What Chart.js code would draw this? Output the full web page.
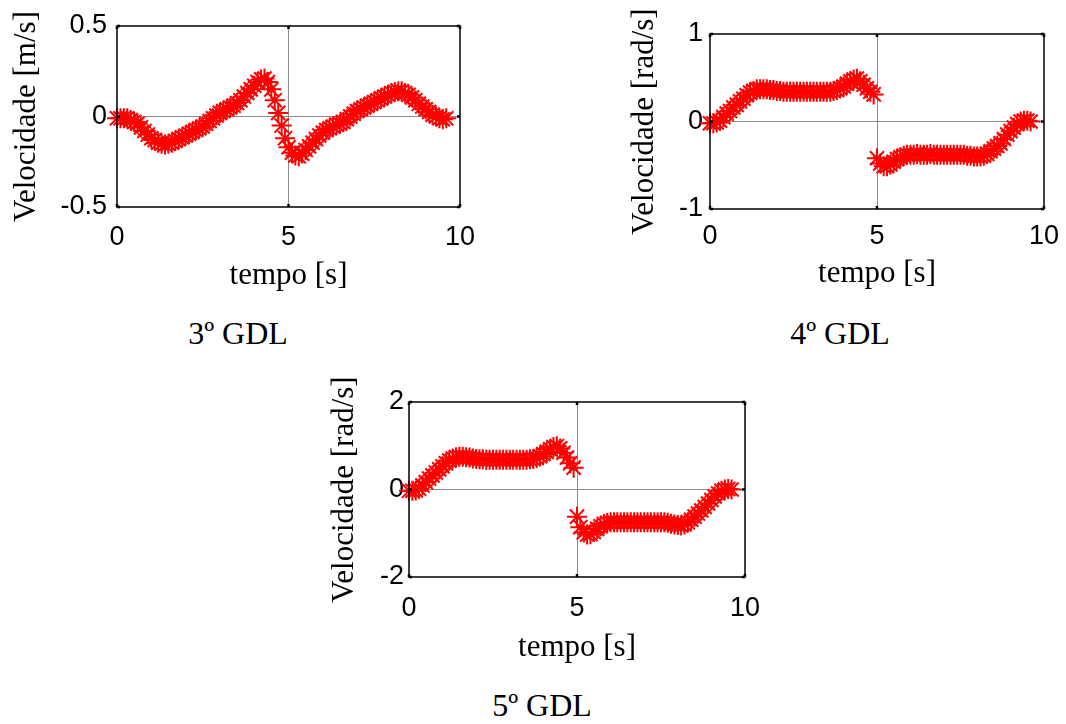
<!DOCTYPE html>
<html>
<head>
<meta charset="utf-8">
<script src="https://cdn.jsdelivr.net/npm/chart.js@4.4.0/dist/chart.umd.min.js"></script>
<style>
  body { margin: 0; background: #fff; width: 1066px; height: 724px; position: relative; overflow: hidden; }
  canvas { position: absolute; }
  .legenda {
    position: absolute; font-family: "Liberation Serif", "Times New Roman", serif;
    font-size: 32px; line-height: 1; color: #000; white-space: nowrap; transform: translateX(-50%);
  }
</style>
</head>
<body>
<canvas id="grafico3" width="480" height="300" style="left:0;top:0"></canvas>
<canvas id="grafico4" width="466" height="300" style="left:600px;top:0"></canvas>
<canvas id="grafico5" width="480" height="310" style="left:300px;top:370px"></canvas>
<div class="legenda" style="left:238px;top:317px">3º GDL</div>
<div class="legenda" style="left:840px;top:317px">4º GDL</div>
<div class="legenda" style="left:542px;top:689px">5º GDL</div>

<script>
// instantes de amostragem [s]
const tempo = [
  0.0, 0.1, 0.2, 0.3, 0.4, 0.5, 0.6, 0.7, 0.8, 0.9,
  1.0, 1.1, 1.2, 1.3, 1.4, 1.5, 1.6, 1.7, 1.8, 1.9,
  2.0, 2.1, 2.2, 2.3, 2.4, 2.5, 2.6, 2.7, 2.8, 2.9,
  3.0, 3.1, 3.2, 3.3, 3.4, 3.5, 3.6, 3.7, 3.8, 3.9,
  4.0, 4.1, 4.2, 4.3, 4.4, 4.5, 4.6, 4.7, 4.8, 4.9,
  5.0, 5.1, 5.2, 5.3, 5.4, 5.5, 5.6, 5.7, 5.8, 5.9,
  6.0, 6.1, 6.2, 6.3, 6.4, 6.5, 6.6, 6.7, 6.8, 6.9,
  7.0, 7.1, 7.2, 7.3, 7.4, 7.5, 7.6, 7.7, 7.8, 7.9,
  8.0, 8.1, 8.2, 8.3, 8.4, 8.5, 8.6, 8.7, 8.8, 8.9,
  9.0, 9.1, 9.2, 9.3, 9.4, 9.5, 9.6
];

// 3º GDL - velocidade linear [m/s]
const vel3 = [
  -0.01, -0.01, -0.01, -0.01, -0.02, -0.03, -0.04, -0.06, -0.08, -0.10,
  -0.12, -0.13, -0.145, -0.15, -0.155, -0.15, -0.145, -0.135, -0.125, -0.115,
  -0.105, -0.095, -0.085, -0.075, -0.065, -0.055, -0.04, -0.025, -0.01, 0.005,
  0.02, 0.03, 0.04, 0.05, 0.06, 0.075, 0.09, 0.11, 0.13, 0.15,
  0.17, 0.19, 0.205, 0.21, 0.19, 0.15, 0.09, 0.02, -0.05, -0.12,
  -0.17, -0.20, -0.215, -0.22, -0.205, -0.185, -0.165, -0.145, -0.125, -0.105,
  -0.09, -0.075, -0.065, -0.055, -0.045, -0.04, -0.03, -0.015, 0.0, 0.015,
  0.03, 0.04, 0.05, 0.06, 0.07, 0.08, 0.09, 0.10, 0.11, 0.12,
  0.13, 0.135, 0.14, 0.14, 0.13, 0.12, 0.105, 0.09, 0.07, 0.055,
  0.04, 0.025, 0.01, 0.0, -0.01, -0.015, -0.01
];

// 4º GDL - velocidade angular [rad/s]
const vel4 = [
  -0.02, -0.02, -0.01, 0.01, 0.05, 0.09, 0.12, 0.16, 0.19, 0.23,
  0.26, 0.30, 0.33, 0.35, 0.37, 0.37, 0.37, 0.37, 0.36, 0.36,
  0.35, 0.35, 0.34, 0.34, 0.34, 0.34, 0.34, 0.34, 0.34, 0.34,
  0.34, 0.34, 0.34, 0.34, 0.34, 0.34, 0.34, 0.35, 0.36, 0.38,
  0.40, 0.43, 0.46, 0.48, 0.49, 0.46, 0.42, 0.38, 0.34, 0.31,
  -0.42, -0.48, -0.51, -0.51, -0.49, -0.46, -0.43, -0.41, -0.39, -0.38,
  -0.38, -0.38, -0.37, -0.38, -0.38, -0.38, -0.37, -0.38, -0.38, -0.38,
  -0.38, -0.38, -0.38, -0.38, -0.38, -0.38, -0.38, -0.39, -0.39, -0.40,
  -0.40, -0.40, -0.39, -0.37, -0.34, -0.31, -0.28, -0.25, -0.20, -0.15,
  -0.11, -0.07, -0.03, 0.0, 0.01, 0.01, 0.0
];

// 5º GDL - velocidade angular [rad/s]
const vel5 = [
  -0.03, -0.03, -0.02, 0.02, 0.09, 0.17, 0.25, 0.32, 0.39, 0.46,
  0.53, 0.60, 0.66, 0.71, 0.74, 0.75, 0.75, 0.74, 0.73, 0.71,
  0.70, 0.69, 0.69, 0.68, 0.68, 0.68, 0.68, 0.68, 0.68, 0.68,
  0.68, 0.68, 0.68, 0.68, 0.68, 0.68, 0.69, 0.70, 0.72, 0.76,
  0.81, 0.86, 0.92, 0.97, 0.99, 0.94, 0.84, 0.73, 0.60, 0.50,
  -0.62, -0.86, -0.98, -1.03, -1.02, -0.97, -0.90, -0.84, -0.79, -0.76,
  -0.75, -0.75, -0.75, -0.75, -0.75, -0.75, -0.75, -0.75, -0.75, -0.75,
  -0.75, -0.75, -0.75, -0.75, -0.75, -0.75, -0.75, -0.76, -0.78, -0.80,
  -0.81, -0.82, -0.80, -0.75, -0.69, -0.62, -0.55, -0.48, -0.40, -0.32,
  -0.24, -0.16, -0.09, -0.03, 0.0, 0.01, 0.0
];

const xTicks = [0, 5, 10];

const fonteNum = { family: '"Liberation Sans", Arial, sans-serif', size: 27 };
const fonteTit = { family: '"Liberation Serif", "Times New Roman", serif', size: 31 };

// caixa preta do eixo com marcas nas divisões (estilo MATLAB)
const caixa = {
  id: 'caixa',
  afterDraw(chart) {
    const { ctx, chartArea: a, scales: { x, y } } = chart;
    ctx.save();
    ctx.strokeStyle = '#000';
    ctx.lineWidth = 1.5;
    ctx.strokeRect(a.left, a.top, a.right - a.left, a.bottom - a.top);
    ctx.lineWidth = 2.5;
    x.ticks.forEach(t => {
      const px = x.getPixelForValue(t.value);
      ctx.beginPath();
      ctx.moveTo(px, a.top); ctx.lineTo(px, a.top + 3);
      ctx.moveTo(px, a.bottom); ctx.lineTo(px, a.bottom - 3);
      ctx.stroke();
    });
    y.ticks.forEach(t => {
      const py = y.getPixelForValue(t.value);
      ctx.beginPath();
      ctx.moveTo(a.left, py); ctx.lineTo(a.left + 3, py);
      ctx.moveTo(a.right, py); ctx.lineTo(a.right - 3, py);
      ctx.stroke();
    });
    ctx.restore();
  }
};

function grade(ctx) {
  const s = ctx.scale;
  if (ctx.tick.value === s.min || ctx.tick.value === s.max) return 'rgba(0,0,0,0)';
  return '#8c8c8c';
}

function criarGrafico(id, valores, yMin, yMax, passo, titulo, lay) {
  const pontos = tempo.map((t, i) => ({ x: t, y: valores[i] }));
  new Chart(document.getElementById(id), {
    type: 'scatter',
    data: {
      datasets: [{
        data: pontos,
        pointStyle: 'star',
        pointRadius: 10,
        pointBorderWidth: 2,
        borderColor: '#ff0000',
        backgroundColor: '#ff0000',
        clip: false
      }]
    },
    options: {
      responsive: false,
      animation: false,
      layout: { padding: { top: lay.top, right: lay.right, left: 0, bottom: 0 } },
      plugins: { legend: { display: false }, tooltip: { enabled: false } },
      scales: {
        x: {
          type: 'linear', min: 0, max: 10,
          afterBuildTicks: s => { s.ticks = xTicks.map(v => ({ value: v })); },
          afterFit: s => { s.height = lay.xh; s.paddingLeft = 0; s.paddingRight = 0; },
          grid: { color: grade, lineWidth: 1, drawTicks: false },
          border: { display: false },
          ticks: { font: fonteNum, color: '#000', padding: lay.xpad, maxRotation: 0 },
          title: { display: true, text: 'tempo [s]', font: fonteTit, color: '#000',
                   padding: { top: 0, bottom: lay.xtit } }
        },
        y: {
          min: yMin, max: yMax,
          afterFit: s => { s.width = lay.yw; s.paddingTop = 0; s.paddingBottom = 0; },
          grid: { color: grade, lineWidth: 1, drawTicks: false },
          border: { display: false },
          ticks: { stepSize: passo, font: fonteNum, color: '#000', padding: lay.ypad },
          title: { display: true, text: titulo, font: fonteTit, color: '#000',
                   padding: { top: lay.ytit, bottom: 0 } }
        }
      }
    },
    plugins: [caixa]
  });
}

criarGrafico('grafico3', vel3, -0.5, 0.5, 0.5, 'Velocidade [m/s]',
  { top: 26, right: 20, yw: 117, xh: 93, xpad: 14, ypad: 10, xtit: 6, ytit: 8 });
criarGrafico('grafico4', vel4, -1, 1, 1, 'Velocidade [rad/s]',
  { top: 34, right: 22, yw: 110, xh: 91, xpad: 11, ypad: 7, xtit: 8, ytit: 26 });
criarGrafico('grafico5', vel5, -2, 2, 2, 'Velocidade [rad/s]',
  { top: 32, right: 35, yw: 109, xh: 103, xpad: 15, ypad: 5, xtit: 14, ytit: 26 });
</script>
</body>
</html>
